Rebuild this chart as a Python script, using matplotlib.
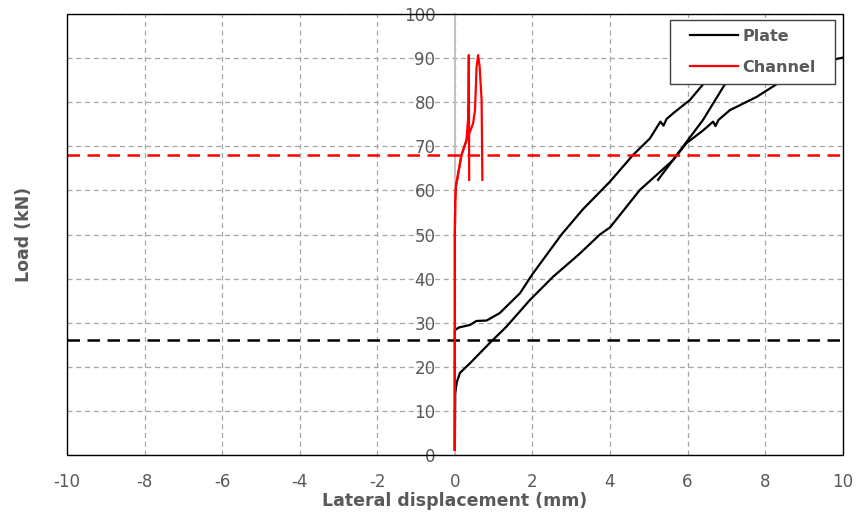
import matplotlib
matplotlib.use("Agg")
import matplotlib.pyplot as plt
from matplotlib.lines import Line2D
from matplotlib.legend_handler import HandlerLine2D
from matplotlib.patches import Rectangle

plt.rcParams["axes.unicode_minus"] = False

# Plate: two gauges (loading + unloading)
plate1_x = [0, 0, 0.1, 0.39, 0.56, 0.82, 1.16, 1.68, 2.0, 2.75, 3.3, 4.0, 4.59, 5.03,
            5.3, 5.38, 5.46, 5.63, 6.06, 6.49, 6.95, 7.4, 7.0, 6.4, 5.24]
plate1_y = [1.2, 28.3, 28.9, 29.5, 30.4, 30.5, 32.2, 36.7, 41.0, 50.0, 55.7, 62.0, 68.0, 71.8,
            75.6, 74.7, 76.2, 77.5, 80.5, 85.0, 88.0, 90.3, 84.6, 76.0, 62.4]
plate2_x = [0, 0.01, 0.05, 0.13, 0.39, 0.9, 1.33, 1.93, 2.53, 3.2, 3.74, 4.0, 4.77, 5.63,
            5.97, 6.4, 6.66, 6.72, 6.8, 7.09, 7.78, 8.46, 9.0, 9.5, 9.88, 10.3]
plate2_y = [1.2, 14.0, 16.5, 18.6, 20.8, 25.4, 29.1, 35.1, 40.4, 45.5, 50.0, 51.6, 60.1, 66.9,
            70.7, 73.6, 75.6, 74.6, 76.0, 78.2, 81.2, 85.0, 87.3, 89.0, 89.9, 90.6]

# Channel: two gauges
chan1_x = [0, 0, 0.01, 0.03, 0.09, 0.17, 0.3, 0.34, 0.35, 0.36, 0.37]
chan1_y = [1.2, 50.0, 57.8, 61.0, 64.0, 68.0, 71.4, 76.0, 80.0, 90.7, 62.4]
chan2_x = [0, 0, 0.01, 0.03, 0.09, 0.17, 0.3, 0.4, 0.47, 0.52, 0.56, 0.6, 0.64, 0.69, 0.71]
chan2_y = [1.2, 50.0, 57.8, 61.0, 64.0, 68.0, 71.4, 73.5, 75.2, 78.2, 88.0, 90.7, 88.0, 80.5, 62.4]

plate_limit = 26.0
channel_limit = 68.0

GRAY = "#595959"

fig = plt.figure(figsize=(8.59, 5.2), dpi=100)
ax = fig.add_axes([0.078, 0.125, 0.903, 0.848])

ax.plot(plate1_x, plate1_y, color="black", lw=1.6, label="Plate", zorder=3)
ax.plot(plate2_x, plate2_y, color="black", lw=1.6, zorder=3)
ax.plot(chan1_x, chan1_y, color="red", lw=1.6, label="Channel", zorder=4)
ax.plot(chan2_x, chan2_y, color="red", lw=1.6, zorder=4)
ax.axhline(plate_limit, color="black", lw=1.8, ls=(0, (5, 3)), zorder=3)
ax.axhline(channel_limit, color="red", lw=1.8, ls=(0, (5, 3)), zorder=3)

ax.set_xlim(-10, 10); ax.set_ylim(0, 100)
ax.set_xticks(range(-10, 11, 2)); ax.set_yticks(range(0, 101, 10))
ax.grid(color="#a6a6a6", ls=(0, (4, 3)), lw=0.9)
ax.set_axisbelow(True)

for s in ["top", "right", "bottom"]:
    ax.spines[s].set_visible(False)
ax.spines["left"].set_position(("data", 0))
ax.spines["left"].set_color("#bfbfbf")
ax.spines["left"].set_linewidth(1.3)
ax.spines["left"].set_zorder(2)
ax.add_patch(Rectangle((0, 0), 1, 1, transform=ax.transAxes, fill=False,
                       edgecolor="black", lw=1.0, clip_on=False, zorder=3))

ax.tick_params(axis="both", length=0, labelsize=12, labelcolor=GRAY)
ax.tick_params(axis="y", pad=14)
ax.tick_params(axis="x", pad=13)

ax.set_xlabel("Lateral displacement (mm)", fontsize=12.5, fontweight="bold",
              color=GRAY, labelpad=1)
ax.set_ylabel("Load (kN)", fontsize=12.5, fontweight="bold", color=GRAY)
ax.yaxis.set_label_coords(-0.044, 0.5)

leg = ax.legend(loc="upper left", bbox_to_anchor=(0.777, 0.862, 0.213, 0.124),
                mode="expand", borderaxespad=0, fancybox=False,
                edgecolor="#404040", framealpha=1, handlelength=3.75,
                handler_map={Line2D: HandlerLine2D(xpad=0.75)},
                prop={"weight": "bold", "size": 11.5}, borderpad=0.55,
                labelspacing=1.0, handletextpad=0.25)
leg.get_frame().set_linewidth(1.0)
leg.set_zorder(5)
for t in leg.get_texts():
    t.set_color(GRAY)

fig.savefig("out.png", dpi=100)
